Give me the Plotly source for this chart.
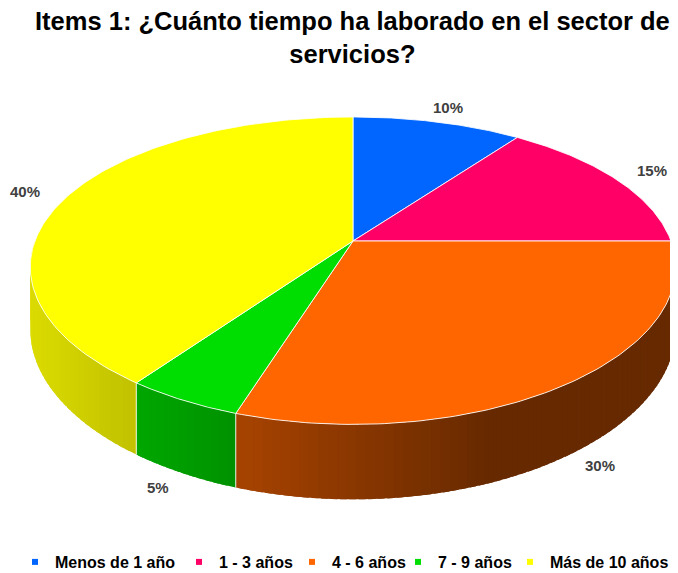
import numpy as np
import plotly.graph_objects as go

# data
categories = ["Menos de 1 año", "1 - 3 años", "4 - 6 años", "7 - 9 años", "Más de 10 años"]
values = [10, 15, 30, 5, 40]
pct_labels = ["10%", "15%", "30%", "5%", "40%"]
colors = ["#0066FF", "#FF0066", "#FF6600", "#00DD00", "#FFFF00"]

# page body has an 8px margin, so the figure is drawn 8px smaller and the
# axes start at 8 so that axis units equal window pixels
PAGE_OFF = 8
W, H = 678 - PAGE_OFF, 573 - PAGE_OFF

# 3D pie geometry (window pixels), perspective tilt
CX, CY = 353, 241
RX, RY = 318, 148
KX, KY = 0.17, 0.193
DEPTH = 60.5


def project(u, v, z=0.0):
    x = CX + RX * u / (1 + KX * v)
    y = CY - RY * v / (1 + KY * v) + z * DEPTH / (1 + KY * v)
    return x, y


def frac_to_uv(f):
    # fraction measured clockwise from 12 o'clock
    t = np.pi / 2 - 2 * np.pi * np.asarray(f)
    return np.cos(t), np.sin(t)


def hex_rgb(h):
    h = h.lstrip("#")
    return [int(h[i:i + 2], 16) for i in (0, 2, 4)]


def shade(hexcol, x):
    k = np.clip(0.86 - 0.45 * (x - 30) / 450, 0.40, 1.0)
    r, g, b = [int(round(c * k)) for c in hex_rgb(hexcol)]
    return f"rgb({r},{g},{b})"


def py(screen_y):
    # window pixel row -> paper fraction
    return 1 - (screen_y - PAGE_OFF) / H


def px(screen_x):
    return (screen_x - PAGE_OFF) / W


total = sum(values)
bounds = np.concatenate([[0], np.cumsum(values) / total])

fig = go.Figure()

# side walls (front half only: fractions 0.25..0.75), overlapping strips
step = 0.004
for i, col in enumerate(colors):
    f0, f1 = max(bounds[i], 0.25), min(bounds[i + 1], 0.75)
    if f1 <= f0:
        continue
    n = max(2, int(np.ceil((f1 - f0) / step)))
    edges = np.linspace(f0, f1, n + 1)
    for a, b in zip(edges[:-1], edges[1:]):
        b2 = min(b + step * 0.7, f1)
        ff = np.linspace(a, b2, 5)
        u, v = frac_to_uv(ff)
        xt, yt = project(u, v, 0)
        xb, yb = project(u, v, 1)
        xs = np.concatenate([xt, xb[::-1], xt[:1]])
        ys = np.concatenate([yt, yb[::-1], yt[:1]])
        c = shade(col, float(np.mean(xt)))
        fig.add_trace(go.Scatter(
            x=xs, y=ys, mode="lines", fill="toself", fillcolor=c,
            line=dict(width=0), hoverinfo="skip", showlegend=False,
        ))

# white seams on the side at slice boundaries
for f in bounds:
    if 0.25 < f < 0.75:
        u, v = frac_to_uv([f, f])
        xs, ys = project(u, v, np.array([0, 1]))
        fig.add_trace(go.Scatter(
            x=xs, y=ys, mode="lines", line=dict(color="rgba(255,255,255,0.85)", width=1),
            hoverinfo="skip", showlegend=False,
        ))

# top faces
for i, col in enumerate(colors):
    ff = np.linspace(bounds[i], bounds[i + 1], 120)
    u, v = frac_to_uv(ff)
    xa, ya = project(u, v, 0)
    xs = np.concatenate([[CX], xa, [CX]])
    ys = np.concatenate([[CY], ya, [CY]])
    fig.add_trace(go.Scatter(
        x=xs, y=ys, mode="lines", fill="toself", fillcolor=col,
        line=dict(color="rgba(255,255,255,0.85)", width=1),
        hoverinfo="skip", showlegend=False,
    ))

# percentage labels
for i, lab in enumerate(pct_labels):
    mid = (bounds[i] + bounds[i + 1]) / 2
    u, v = frac_to_uv(mid)
    z = 0.85 if v < 0 else 0.0
    r = 1.12 if v < 0 else 1.15
    lx, ly = project(r * u, r * v, z)
    fig.add_annotation(
        x=lx, y=ly, text=f"<b>{lab}</b>", showarrow=False,
        font=dict(family="Liberation Sans, Arial", size=15, color="#404040"),
    )

# title
fig.add_annotation(
    x=px(352), y=py(5), xref="paper", yref="paper", xanchor="center", yanchor="top",
    text="<b>Items 1: ¿Cuánto tiempo ha laborado en el sector de<br>servicios?</b>",
    showarrow=False,
    font=dict(family="Liberation Sans, Arial", size=25.5, color="#000000"),
)

# legend: one small legend per entry so spacing follows the reference
legend_text_x = [53, 217, 330, 436, 548]
legend_layouts = {}
for k, (cat, col, tx) in enumerate(zip(categories, colors, legend_text_x)):
    key = "legend" if k == 0 else f"legend{k + 1}"
    fig.add_trace(go.Scatter(
        x=[None], y=[None], mode="markers", name=cat, legend=key,
        marker=dict(symbol="square", size=6, color=col),
    ))
    legend_layouts[key] = dict(
        orientation="h",
        x=px(tx + 2 - 40),
        xanchor="left",
        y=py(562),
        yanchor="middle",
        itemwidth=30,
        font=dict(family="Liberation Sans, Arial", size=16, color="#000000", weight="bold"),
        bgcolor="rgba(0,0,0,0)",
    )

fig.update_layout(
    width=W,
    height=H,
    margin=dict(l=0, r=0, t=0, b=0, autoexpand=False),
    paper_bgcolor="white",
    plot_bgcolor="white",
    xaxis=dict(range=[PAGE_OFF, 678], visible=False, fixedrange=True),
    yaxis=dict(range=[573, PAGE_OFF], visible=False, fixedrange=True),
    **legend_layouts,
)

fig.write_html("out.html")
